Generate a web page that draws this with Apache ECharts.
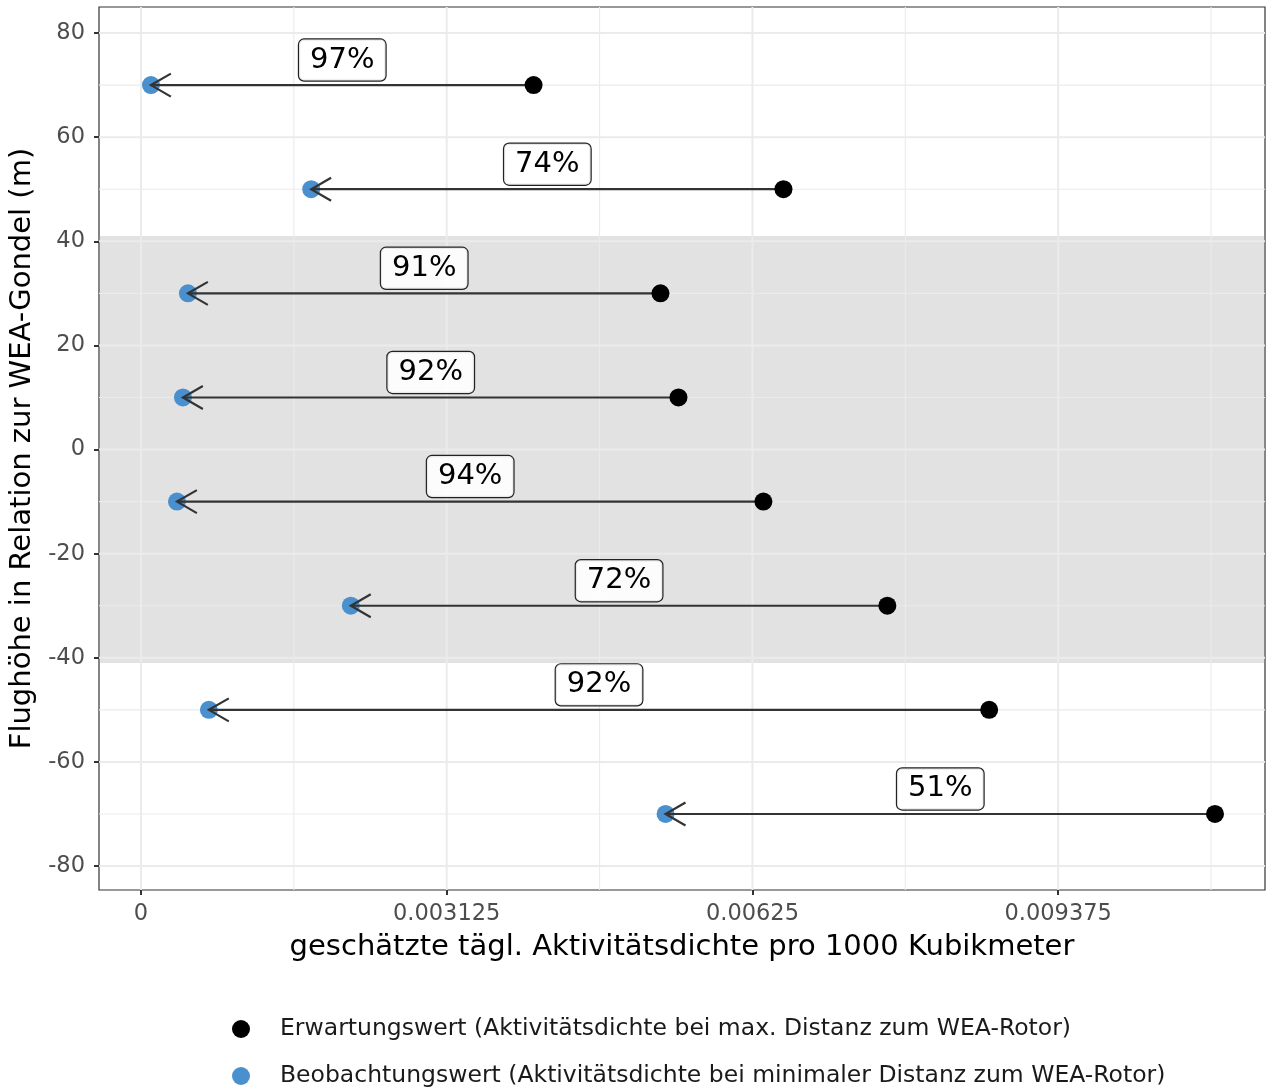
<!DOCTYPE html>
<html>
<head>
<meta charset="utf-8">
<script src="https://cdn.jsdelivr.net/npm/echarts@6/dist/echarts.min.js"></script>
<style>html,body{margin:0;padding:0;background:#fff;}#c{width:1266px;height:1088px;}</style>
</head>
<body>
<div id="c"></div>
<script>
// ---- data ----
const heights = [70, 50, 30, 10, -10, -30, -50, -70];
const expected = [0.004013, 0.006567, 0.00531, 0.005494, 0.006362, 0.007629, 0.00867, 0.010978];
const observed = [0.000102, 0.001740, 0.00048, 0.000429, 0.000368, 0.002145, 0.000694, 0.005362];
const pctLabels = ["97%", "74%", "91%", "92%", "94%", "72%", "92%", "51%"];
const xTickValues = [0, 0.003125, 0.00625, 0.009375];
const xTickLabels = ["0", "0.003125", "0.00625", "0.009375"];
const xMinorValues = [0.0015625, 0.0046875, 0.0078125, 0.0109375];
const yTickValues = [80, 60, 40, 20, 0, -20, -40, -60, -80];
const yTickLabels = ["80", "60", "40", "20", "0", "-20", "-40", "-60", "-80"];
const yMinorValues = [70, 50, 30, 10, -10, -30, -50, -70];
const shadeRange = [41, -41];
const seriesNames = ["Erwartungswert (Aktivitätsdichte bei max. Distanz zum WEA-Rotor)",
                     "Beobachtungswert (Aktivitätsdichte bei minimaler Distanz zum WEA-Rotor)"];

const FONT = 'DejaVu Sans';
const chart = echarts.init(document.getElementById('c'), null, {renderer: 'canvas'});

// grid line data: [value, orientation (0 = vertical / x, 1 = horizontal / y), major flag]
const gridData = [];
xTickValues.forEach(v => gridData.push([v, 0, 1]));
xMinorValues.forEach(v => gridData.push([v, 0, 0]));
yTickValues.forEach(v => gridData.push([v, 1, 1]));
yMinorValues.forEach(v => gridData.push([v, 1, 0]));

const option = {
  animation: false,
  backgroundColor: '#ffffff',
  textStyle: {fontFamily: FONT},
  grid: {left: 99, right: 1, top: 7, bottom: 198, show: true, borderColor: '#333333', borderWidth: 1.2,
         backgroundColor: 'transparent', containLabel: false, outerBoundsMode: 'none'},
  xAxis: {
    type: 'value', min: -0.000429, max: 0.011489,
    name: 'geschätzte tägl. Aktivitätsdichte pro 1000 Kubikmeter',
    nameLocation: 'middle', nameGap: 43,
    nameTextStyle: {fontSize: 29, color: '#000', fontFamily: FONT},
    axisLine: {show: false, onZero: false},
    axisTick: {show: true, customValues: xTickValues, length: 5, lineStyle: {color: '#333', width: 2}},
    axisLabel: {customValues: xTickValues, margin: 13, fontSize: 22.5, color: '#4d4d4d', fontFamily: FONT,
      formatter: v => { const i = xTickValues.findIndex(t => Math.abs(t - v) < 1e-9); return i >= 0 ? xTickLabels[i] : ''; }},
    splitLine: {show: false}
  },
  yAxis: {
    type: 'value', min: -84.6, max: 85,
    name: 'Flughöhe in Relation zur WEA-Gondel (m)',
    nameLocation: 'middle', nameGap: 57, nameRotate: 90,
    nameTextStyle: {fontSize: 29, color: '#000', fontFamily: FONT},
    axisLine: {show: false, onZero: false},
    axisTick: {show: true, customValues: yTickValues, length: 5, lineStyle: {color: '#333', width: 2}},
    axisLabel: {customValues: yTickValues, margin: 14, fontSize: 22.5, color: '#4d4d4d', fontFamily: FONT,
      formatter: v => { const i = yTickValues.findIndex(t => Math.abs(t - v) < 1e-9); return i >= 0 ? yTickLabels[i] : ''; }},
    splitLine: {show: false}
  },
  legend: {
    orient: 'vertical', left: 232, top: 1017, itemGap: 23, padding: 0,
    itemWidth: 18, itemHeight: 18, icon: 'circle',
    textStyle: {fontSize: 23.5, color: '#1a1a1a', fontFamily: FONT, lineHeight: 24, padding: [0, 0, 0, 25]},
    data: seriesNames
  },
  series: [
    {
      type: 'custom', name: '_grid', z: 1, silent: true,
      data: gridData,
      renderItem: function (params, api) {
        const cs = params.coordSys;
        const v = api.value(0), orient = api.value(1), major = api.value(2);
        const w = major ? 2 : 1.1;
        let shape;
        if (orient === 0) {
          const px = api.coord([v, 0])[0];
          shape = {x1: px, y1: cs.y, x2: px, y2: cs.y + cs.height};
        } else {
          const py = api.coord([0, v])[1];
          shape = {x1: cs.x, y1: py, x2: cs.x + cs.width, y2: py};
        }
        return {type: 'line', shape: shape, style: {stroke: '#ebebeb', lineWidth: w}};
      }
    },
    {
      type: 'scatter', name: '_shade', data: [], z: 2, silent: true,
      markArea: {silent: true, itemStyle: {color: 'rgba(150,150,150,0.28)'}, data: [[{yAxis: shadeRange[0]}, {yAxis: shadeRange[1]}]]}
    },
    {
      type: 'scatter', name: seriesNames[1], z: 3,
      symbolSize: 18, itemStyle: {color: '#4a90ce', opacity: 1},
      data: heights.map((h, i) => [observed[i], h])
    },
    {
      type: 'custom', name: '_arrows', z: 4, silent: true,
      data: heights.map((h, i) => [expected[i], observed[i], h]),
      encode: {x: [0, 1], y: 2},
      renderItem: function (params, api) {
        const xb = api.value(0), xo = api.value(1), y = api.value(2);
        const p1 = api.coord([xb, y]);
        const p2 = api.coord([xo, y]);
        const ang = Math.atan2(p1[1] - p2[1], p1[0] - p2[0]);
        const L = 23, a = Math.PI / 6;
        const h1 = [p2[0] + L * Math.cos(ang + a), p2[1] + L * Math.sin(ang + a)];
        const h2 = [p2[0] + L * Math.cos(ang - a), p2[1] + L * Math.sin(ang - a)];
        return {
          type: 'group',
          children: [
            {type: 'line', shape: {x1: p1[0], y1: p1[1], x2: p2[0], y2: p2[1]}, style: {stroke: '#333333', lineWidth: 2.2}},
            {type: 'polyline', shape: {points: [h1, p2, h2]}, style: {stroke: '#333333', lineWidth: 2.2, fill: null}}
          ]
        };
      }
    },
    {
      type: 'scatter', name: seriesNames[0], z: 5,
      symbolSize: 18, itemStyle: {color: '#000000', opacity: 1},
      data: heights.map((h, i) => [expected[i], h])
    },
    {
      type: 'custom', name: '_labels', z: 6, silent: true,
      data: heights.map((h, i) => [(expected[i] + observed[i]) / 2, h + 5, i]),
      encode: {x: 0, y: 1},
      renderItem: function (params, api) {
        const p = api.coord([api.value(0), api.value(1)]);
        return {
          type: 'text', x: p[0], y: p[1] + 1,
          style: {
            text: pctLabels[api.value(2)], fontSize: 29, fontFamily: FONT, fill: '#000',
            align: 'center', verticalAlign: 'middle',
            backgroundColor: 'rgba(255,255,255,0.9)', borderColor: '#222', borderWidth: 1.2, borderRadius: 5,
            padding: [7, 11, 5, 11]
          }
        };
      }
    }
  ]
};
chart.setOption(option);
</script>
</body>
</html>
